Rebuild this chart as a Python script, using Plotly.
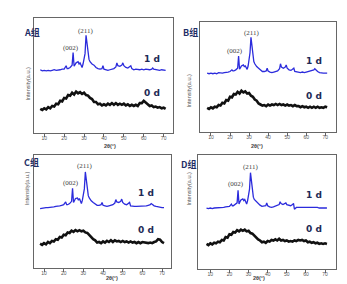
import plotly.graph_objects as go

# ---------------- data ----------------
panels = ["A组", "B组", "C组", "D组"]

two_theta_1d = [8, 9, 10, 11, 12, 13, 14, 15, 16, 17, 18, 19, 20, 21,
                21.5, 22,
                23, 24, 24.5, 25, 25.5, 26,
                27, 27.5, 28, 28.5, 29, 29.5, 30, 30.5, 31, 31.5, 32, 32.5, 33, 33.5, 34,
                35, 36, 37, 38, 39, 39.5, 40,
                41, 42, 43, 44, 45, 46,
                46.5, 47, 48, 49, 49.5, 50,
                51, 52, 53, 53.5, 54,
                55, 56, 57, 58, 59, 60, 61, 62, 63, 64,
                64.5, 65, 66, 67, 68, 69, 70, 71]

two_theta_0d = list(range(8, 72))

int_1d_A = [55, 54, 54.5, 54, 54.5, 54, 54.5, 55, 54.5, 54.5, 55, 55.5, 55.5, 58.5,
            56, 56,
            57, 59, 70, 58, 60, 61,
            62, 60, 61, 58, 57, 60, 64, 69, 85, 76, 67, 64, 62, 61, 60,
            59, 57, 56, 55.5, 56, 58.5, 55.5,
            55, 54.5, 55, 55.5, 56, 57.5,
            61, 58.5, 58, 59, 61, 58.5,
            57, 56.5, 57.5, 58.5, 56,
            55, 55.5, 55, 55, 55.5, 55, 55.5, 55, 55, 55.5,
            56.5, 55.5, 55, 55, 54.5, 55, 54.5, 54.5]
int_1d_B = [53.5, 53, 53.5, 53, 53.5, 53, 54, 53.5, 53.5, 54, 54, 54.5, 55, 56.5,
            55.5, 55.5,
            56.5, 58, 69, 57, 58.5, 60,
            61, 59.5, 60, 58, 57, 60, 65, 72, 86, 77, 68, 64, 62, 60.5, 59.5,
            58, 56, 55, 55, 55.5, 58, 55.5,
            54.5, 54, 54.5, 55, 55.5, 57.5,
            62, 59, 58, 59, 61, 58,
            56.5, 56, 57, 58, 55,
            54.5, 54.5, 54, 54.5, 54, 54.5, 55, 55, 55.5, 56.5,
            57.5, 56.5, 55, 54, 53.5, 53.5, 53.5, 53.5]
int_1d_C = [52.5, 53, 53, 53.5, 53.5, 53.5, 54, 54, 54.5, 54.5, 55, 55.5, 56, 58.5,
            56, 56,
            57, 59, 70.5, 58, 60, 61.5,
            62, 60, 61.5, 58.5, 57, 60, 64, 70, 85, 76, 67, 64, 62, 60.5, 59.5,
            58, 56.5, 55.5, 55.5, 56, 58, 55.5,
            55, 54.5, 55, 55.5, 56, 57.5,
            60.5, 58.5, 58, 59, 61, 58,
            56.5, 56, 57, 58, 55,
            54.5, 54.5, 54.5, 54.5, 55, 54.5, 55, 55, 55.5, 56,
            57, 56, 55, 54.5, 54, 54, 53.5, 53.5]
int_1d_D = [53.5, 53, 53.5, 53, 53.5, 53.5, 54, 53.5, 54, 54, 54.5, 55, 55, 57,
            55.5, 55.5,
            56.5, 58, 69, 57, 59, 60.5,
            61.5, 60, 61, 58, 57, 60, 64, 70, 84.5, 75, 66, 63, 61, 60, 59,
            57.5, 56, 55, 55, 55.5, 58, 55.5,
            54.5, 54, 54.5, 55, 55.5, 56.5,
            59, 57.5, 56.5, 57.5, 58, 56.5,
            56, 55.5, 56.5, 57.5, 52.5,
            54, 54, 54, 54, 54.5, 54.5, 54, 54, 54.5, 54,
            54.5, 54, 54, 53.5, 53.5, 53.5, 53.5, 53.5]

int_0d_A = [21, 20, 21.5, 20.5, 22.5, 21.5, 23.5, 23, 25.5, 25, 28, 27.5, 30.5, 30,
            33, 32.5, 35, 33.5, 36, 34.5, 35.5, 34, 35, 33, 32.5, 30.5, 29.5, 27,
            27, 25, 25.5, 24, 25, 24, 25.5, 24.5, 26, 24.5, 26, 24.5, 25.5, 24.5,
            25.5, 24, 25, 23.5, 24.5, 23.5, 24.5, 23.5, 26, 26, 28, 26.5, 25, 23.5,
            24, 22.5, 23, 22, 22.5, 21.5, 22, 21]
int_0d_B = [22, 21, 22.5, 21.5, 23, 22.5, 24.5, 24, 26.5, 26, 29, 28.5, 32, 31.5,
            34.5, 34, 36.5, 35, 37.5, 36, 37, 35, 35.5, 33, 32, 29.5, 28.5, 26,
            25, 24, 24.5, 23.5, 25, 24, 25, 24.5, 25.5, 24.5, 25.5, 24.5, 25, 24,
            25, 24, 24.5, 23.5, 24.5, 23.5, 23.5, 22.5, 23.5, 22.5, 23, 22, 23, 22,
            23, 22, 23, 22, 22.5, 22, 23, 22.5]
int_0d_C = [21.5, 20.5, 22, 21, 23, 22, 24, 23.5, 25.5, 25, 27.5, 27, 29.5, 29,
            31.5, 31, 33, 32, 33.5, 32.5, 33.5, 32.5, 33, 31.5, 31, 29, 28, 25.5,
            24.5, 22.5, 23, 22, 23.5, 22.5, 24, 23, 24.5, 23, 24.5, 23.5, 24, 23,
            24, 23, 23.5, 22.5, 23.5, 22.5, 23, 22, 23, 22, 23, 22.5, 22.5, 22,
            22.5, 22, 23, 23.5, 25.5, 25, 23, 22]
int_0d_D = [22, 21, 22.5, 21.5, 23, 22.5, 24, 23.5, 25.5, 25, 28, 27.5, 30.5, 30,
            32.5, 32, 34, 33, 34.5, 33.5, 34.5, 33, 33.5, 31.5, 31, 29, 28, 26,
            25, 23.5, 24, 23, 24.5, 24, 25.5, 25, 26, 25, 26.5, 25, 25.5, 24.5,
            25, 24, 24.5, 24, 25, 24.5, 25.5, 25, 25.5, 24.5, 25, 23.5, 24, 23,
            23.5, 22.5, 23, 22, 22.5, 22, 22.5, 22]

tick_vals = [10, 20, 30, 40, 50, 60, 70]
x_title = "2θ(°)"
y_title = "Intensity(a.u.)"
peak_labels = ["(002)", "(211)"]
day_labels = ["1 d", "0 d"]

# ---------------- layout helpers ----------------
W, H = 347, 284
def px(x): return x / W
def py(y): return 1 - y / H

# frame (left, top, right, bottom) in pixels and x range
frames = [
    (25.5, 10, 165, 125, [4.6, 74.7]),
    (192.3, 14, 328.3, 124, [4.4, 75.8]),
    (26, 147, 162.7, 260, [4.9, 74.4]),
    (190.3, 147, 328.3, 261, [3.7, 75.9]),
]
series_1d = [int_1d_A, int_1d_B, int_1d_C, int_1d_D]
series_0d = [int_0d_A, int_0d_B, int_0d_C, int_0d_D]

# annotation positions per panel
peak_pos = [[(23.4, 74), (31.0, 89)], [(22.6, 74), (31.4, 90)],
            [(23.6, 75), (31.0, 90)], [(23.4, 75), (31.3, 89.5)]]
day_pos = [[(64.1, 64), (64.1, 35)], [(64.2, 65), (64.2, 33)],
           [(62.0, 66.5), (62.0, 34)], [(64.4, 65), (64.4, 35)]]
group_pos = [(14, 16), (182, 16), (14, 154), (180, 156)]
xtitle_pos = [(94, 138), (257, 138), (96, 274.5), (259, 274.5)]
ytitle_pos = [(15, 58), (180, 65), (13.5, 199), (180, 200)]

fig = go.Figure()
annotations = []
layout = dict(width=W, height=H, margin=dict(l=0, r=0, t=0, b=0),
              paper_bgcolor="white", plot_bgcolor="white", showlegend=False)

for i in range(4):
    l, t, r, b, xr = frames[i]
    sfx = "" if i == 0 else str(i + 1)
    xa, ya = "x" + sfx, "y" + sfx
    fig.add_trace(go.Scatter(x=two_theta_0d, y=series_0d[i], mode="lines",
                             line=dict(color="#111111", width=2.6),
                             xaxis=xa, yaxis=ya, hoverinfo="skip"))
    fig.add_trace(go.Scatter(x=two_theta_1d, y=series_1d[i], mode="lines",
                             line=dict(color="#2b2bdc", width=1.3),
                             xaxis=xa, yaxis=ya, hoverinfo="skip"))
    layout["xaxis" + sfx] = dict(domain=[px(l), px(r)], range=xr, anchor=ya,
                                 showgrid=False, zeroline=False, showline=True,
                                 linecolor="#666666", linewidth=1, mirror=True,
                                 ticks="outside", ticklen=2.5, tickcolor="#666666",
                                 tickvals=tick_vals, ticklabelstandoff=-3,
                                 tickfont=dict(size=5, color="#555555", family="Liberation Sans"))
    layout["yaxis" + sfx] = dict(domain=[py(b), py(t)], range=[0, 100], anchor=xa,
                                 showgrid=False, zeroline=False, showline=True,
                                 linecolor="#666666", linewidth=1, mirror=True,
                                 showticklabels=False, ticks="")
    for k in range(2):
        annotations.append(dict(x=peak_pos[i][k][0], y=peak_pos[i][k][1], xref=xa, yref=ya,
                                text=peak_labels[k], showarrow=False,
                                font=dict(size=7, color="#444444", family="Liberation Serif")))
        annotations.append(dict(x=day_pos[i][k][0], y=day_pos[i][k][1], xref=xa, yref=ya,
                                text="<b>" + day_labels[k] + "</b>", showarrow=False,
                                font=dict(size=9, color="#1e2a55", family="DejaVu Sans")))
    gx, gy = group_pos[i]
    annotations.append(dict(x=px(gx), y=py(gy), xref="paper", yref="paper",
                            text="<b>" + panels[i] + "</b>", showarrow=False,
                            font=dict(size=9, color="#1f2f66", family="Noto Sans CJK SC")))
    tx, ty = xtitle_pos[i]
    annotations.append(dict(x=px(tx), y=py(ty), xref="paper", yref="paper",
                            text="<b>" + x_title + "</b>", showarrow=False,
                            font=dict(size=5.5, color="#444444", family="Liberation Sans")))
    vx, vy = ytitle_pos[i]
    annotations.append(dict(x=px(vx), y=py(vy), xref="paper", yref="paper",
                            text=y_title, showarrow=False, textangle=-90,
                            font=dict(size=5.5, color="#555555", family="Liberation Sans")))

layout["annotations"] = annotations
fig.update_layout(**layout)
fig.write_html("out.html")
